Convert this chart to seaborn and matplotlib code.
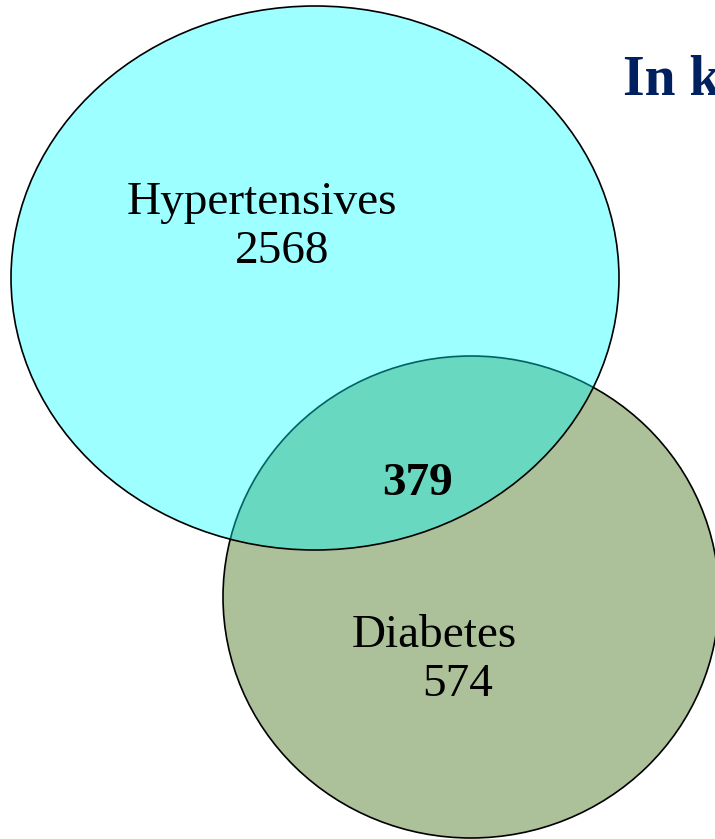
import matplotlib
matplotlib.use("Agg")
import matplotlib.pyplot as plt
from matplotlib.patches import Ellipse
import seaborn as sns

# Venn-Daten
set_names = ["Hypertensives", "Diabetes"]
only_counts = [2568, 574]
both_count = 379
title_text = "In k"

colors = {
    "hyper": (0.0, 1.0, 1.0, 0.385),
    "diab": "#acc199",
    "title": "#002060",
    "text": "black",
}

sns.set_theme(style="white")
plt.rcParams["font.family"] = ["Liberation Serif", "DejaVu Serif"]

W, H = 715, 839
fig = plt.figure(figsize=(W / 100, H / 100), dpi=100)
ax = fig.add_axes([0, 0, 1, 1])
ax.set_xlim(0, W)
ax.set_ylim(H, 0)
ax.axis("off")

# Diabetes zuerst, Hypertensives halbtransparent darueber
ax.add_patch(Ellipse((471, 597), 496, 482, facecolor=colors["diab"],
                     edgecolor="black", linewidth=1.2, zorder=1))
ax.add_patch(Ellipse((315, 278), 608, 544, facecolor=colors["hyper"],
                     edgecolor="black", linewidth=1.2, zorder=2))

fs = 34
ax.text(261.5, 214, set_names[0], fontsize=fs, color=colors["text"],
        ha="center", va="baseline", zorder=3)
ax.text(282.5, 263, str(only_counts[0]), fontsize=fs, color=colors["text"],
        ha="center", va="baseline", zorder=3)
ax.text(418, 495, str(both_count), fontsize=fs, fontweight="bold", color=colors["text"],
        ha="center", va="baseline", zorder=3)
ax.text(434, 647, set_names[1], fontsize=fs, color=colors["text"],
        ha="center", va="baseline", zorder=3)
ax.text(458, 696, str(only_counts[1]), fontsize=fs, color=colors["text"],
        ha="center", va="baseline", zorder=3)

# Titel ist im Original rechts abgeschnitten
ax.text(623, 95, title_text, fontsize=40, fontweight="bold", color=colors["title"],
        ha="left", va="baseline", zorder=3)

fig.savefig("out.png", dpi=100)
